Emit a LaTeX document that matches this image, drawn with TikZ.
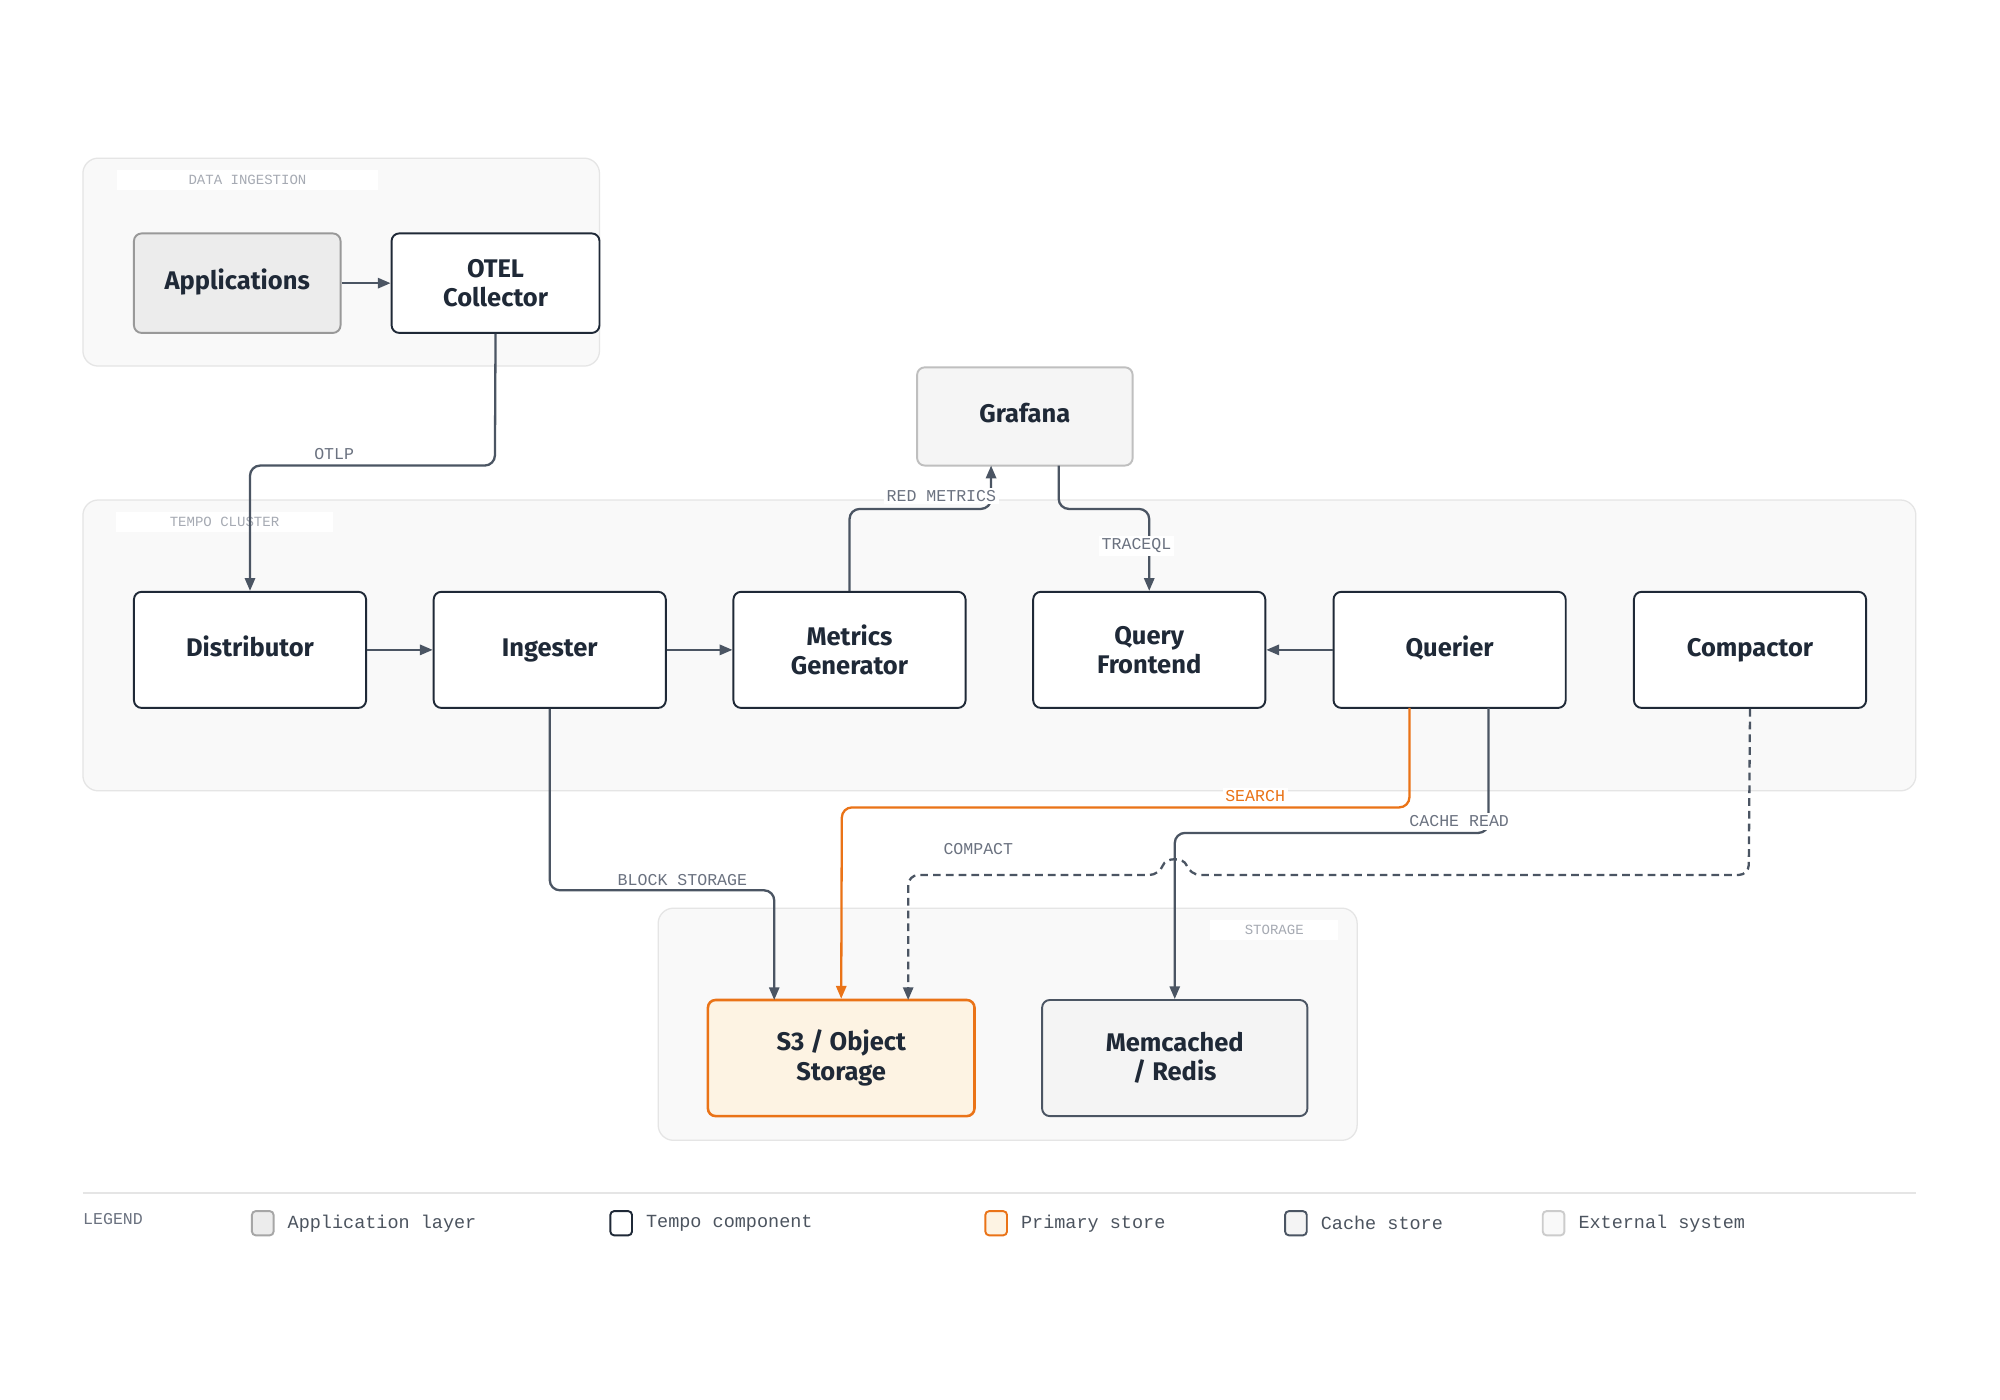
\documentclass[tikz,border=0pt]{standalone}
\usepackage{fontspec}
\setmainfont{Fira Sans}
\newfontfamily\monofont{Liberation Mono}
\usetikzlibrary{arrows.meta,calc}
\definecolor{ink}{HTML}{1F2937}
\definecolor{wire}{HTML}{4B5563}
\definecolor{lbl}{HTML}{6B7280}
\definecolor{grp}{HTML}{F9F9F9}
\definecolor{grpline}{HTML}{E5E5E5}
\definecolor{orng}{HTML}{EA7317}
\definecolor{s3fill}{HTML}{FDF3E3}
\tikzset{
  group/.style={draw=grpline, fill=grp, rounded corners=12pt, line width=1pt},
  grouplabel/.style={fill=white, text=lbl!60, font=\monofont\fontsize{11}{11}\selectfont, inner xsep=12pt, inner ysep=4pt, minimum width=205pt},
  comp/.style={draw=ink, fill=white, rounded corners=6pt, line width=1.5pt, minimum width=182pt, minimum height=91pt, align=center, text=ink, font=\fontsize{20}{23}\selectfont\bfseries},
  one/.style={text height=14pt, text depth=4pt},
  wirelabel/.style={fill=white, text=lbl, font=\monofont\fontsize{13}{13}\selectfont, inner sep=2pt},
  conn/.style={draw=wire, line width=1.8pt, rounded corners=8pt, -{Triangle[length=10pt,width=8pt]}},
  swatch/.style={draw, rounded corners=3pt, line width=1.5pt, minimum width=17pt, minimum height=19pt},
  legtext/.style={anchor=west, text=ink!80, font=\monofont\fontsize{14.5}{14.5}\selectfont}
}
\begin{document}
\begin{tikzpicture}[x=1pt,y=-1pt]
\useasboundingbox[fill=white] (0,0) rectangle (1568,1097);

% groups
\draw[group] (65,124) rectangle (470,287);
\node[grouplabel] at (194,141) {DATA INGESTION};
\draw[group] (65,392) rectangle (1502,620);
\node[grouplabel, minimum width=170pt] at (176,409) {TEMPO CLUSTER};
\draw[group] (516,712) rectangle (1064,894);
\node[grouplabel, minimum width=100pt] at (999,729) {STORAGE};

% components
\node[comp, one, minimum width=162pt, minimum height=78pt, fill=gray!15, draw=gray!80] (apps) at (186,222) {Applications};
\node[comp, minimum width=163pt, minimum height=78pt] (otel) at (388.5,222) {OTEL\\Collector};
\node[comp, one, minimum width=169pt, minimum height=77pt, fill=gray!8, draw=gray!50] (graf) at (803.5,326.5) {Grafana};
\node[comp, one] (dist) at (196,509.5) {Distributor};
\node[comp, one] (ing) at (431,509.5) {Ingester};
\node[comp] (mg) at (666,509.5) {Metrics\\Generator};
\node[comp] (qf) at (901,509.5) {Query\\Frontend};
\node[comp, one] (qr) at (1136.5,509.5) {Querier};
\node[comp, one] (cmp) at (1372,509.5) {Compactor};
\node[comp, minimum width=209pt, draw=orng, fill=s3fill, line width=2pt] (s3) at (659.5,829.5) {S3 / Object\\Storage};
\node[comp, minimum width=208pt, draw=wire, fill=gray!9] (mem) at (921,829.5) {Memcached\\/ Redis};

% connectors
\draw[conn] (apps) -- (otel);
\draw[conn] (dist) -- (ing);
\draw[conn] (ing) -- (mg);
\draw[conn] (qr) -- (qf);
\draw[conn] (otel.south) -- (388,365) -- (196,365) -- (dist.north);
\node[wirelabel] at (262,356) {OTLP};
\coordinate (gin) at (777,365);
\draw[conn] (mg.north) -- (666,399) -- (777,399) -- (gin);
\node[wirelabel] at (738,389) {RED METRICS};
\coordinate (gout) at (830,365);
\draw[conn] (gout) -- (830,399) -- (901,399) -- (qf.north);
\node[wirelabel] at (891,428) {TRACEQL};
\draw[conn] (ing.south) -- (431,698) -- (607,698) -- (607,784);
\node[wirelabel] at (535,690) {BLOCK STORAGE};
\coordinate (qs) at (1105,555);
\draw[conn, draw=orng, -{Triangle[length=10pt,width=8pt,fill=orng]}] (qs) -- (1105,633) -- (660,633) -- (s3.north);
\node[wirelabel, text=orng] at (984,624) {SEARCH};
\coordinate (qc) at (1167,555);
\draw[conn] (qc) -- (1167,653) -- (921,653) -- (mem.north);
\node[wirelabel] at (1144,644) {CACHE READ};
\draw[conn, dashed, dash pattern=on 6pt off 4pt] (cmp.south) -- (1371,686) -- (933,686) .. controls (928,672) and (914,672) .. (909,686) -- (712,686) -- (712,784);
\node[text=lbl, font=\monofont\fontsize{13}{13}\selectfont] at (767,666) {COMPACT};

% legend
\draw[grpline, line width=1.5pt] (65,935) -- (1502,935);
\node[anchor=west, text=lbl, font=\monofont\fontsize{13}{13}\selectfont, inner sep=0pt] (leg) at (65,956) {LEGEND};
\node[swatch, draw=gray!70, fill=gray!15] (sw1) at (206,959) {};
\node[legtext] at (222,959) {Application layer};
\node[swatch, draw=ink, fill=white] (sw2) at (487,959) {};
\node[legtext] at (503,959) {Tempo component};
\node[swatch, draw=orng, fill=s3fill] (sw3) at (781,959) {};
\node[legtext] at (797,959) {Primary store};
\node[swatch, draw=wire, fill=gray!9] (sw4) at (1016,959) {};
\node[legtext] at (1032,959) {Cache store};
\node[swatch, draw=gray!40, fill=gray!5] (sw5) at (1218,959) {};
\node[legtext] at (1234,959) {External system};
\end{tikzpicture}
\end{document}
